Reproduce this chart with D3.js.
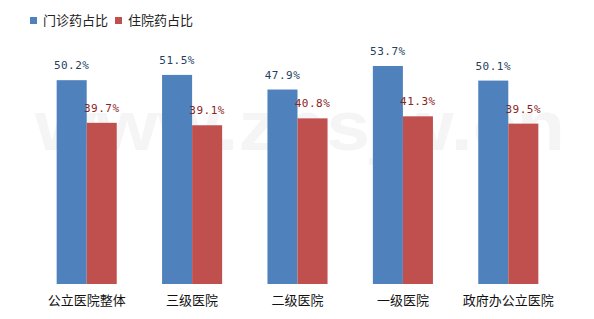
<!DOCTYPE html>
<html>
<head>
<meta charset="utf-8">
<script src="https://cdn.jsdelivr.net/npm/d3@7"></script>
<style>
  body { margin: 0; background: #fff; }
  svg { display: block; }
</style>
</head>
<body>
<script>
// Data
const categories = ["公立医院整体", "三级医院", "二级医院", "一级医院", "政府办公立医院"];
const seriesNames = ["门诊药占比", "住院药占比"];
const outpatient = [50.2, 51.5, 47.9, 53.7, 50.1];
const inpatient = [39.7, 39.1, 40.8, 41.3, 39.5];

const colors = ["#4F81BD", "#C0504D"];
const labelColors = ["#243F60", "#8B2323"];

const width = 594, height = 319;
const margin = {top: 40, right: 33, bottom: 35, left: 34};

const svg = d3.select("body")
    .append("svg")
    .attr("width", width)
    .attr("height", height);

// faint watermark behind the bars
svg.append("text")
    .attr("x", 35)
    .attr("y", 150)
    .attr("font-family", "Liberation Sans, Arial, sans-serif")
    .attr("font-weight", "bold")
    .attr("font-size", 70)
    .attr("textLength", 530)
    .attr("lengthAdjust", "spacingAndGlyphs")
    .attr("fill", "#f5f5f5")
    .text("www.zbsjw.cn");

const rows = categories.map((c, i) => ({cat: c, values: [outpatient[i], inpatient[i]]}));

const x0 = d3.scaleBand()
    .domain(categories)
    .range([margin.left, width - margin.right])
    .paddingInner(0.43)
    .paddingOuter(0.215);

const x1 = d3.scaleBand()
    .domain([0, 1])
    .range([0, x0.bandwidth()]);

const y = d3.scaleLinear()
    .domain([0, 60])
    .range([284, 40.4]);

const groups = svg.append("g")
    .selectAll("g")
    .data(rows)
    .join("g")
    .attr("transform", d => `translate(${x0(d.cat)},0)`);

groups.selectAll("rect")
    .data(d => d.values)
    .join("rect")
    .attr("x", (d, i) => x1(i))
    .attr("y", d => y(d))
    .attr("width", x1.bandwidth())
    .attr("height", d => y(0) - y(d))
    .attr("fill", (d, i) => colors[i]);

groups.selectAll("text")
    .data(d => d.values)
    .join("text")
    .attr("x", (d, i) => x1(i) + x1.bandwidth() / 2)
    .attr("y", d => y(d) - 11)
    .attr("text-anchor", "middle")
    .attr("font-family", "DejaVu Sans Mono, monospace")
    .attr("font-size", 11)
    .attr("letter-spacing", 0.5)
    .attr("fill", (d, i) => labelColors[i])
    .text(d => d.toFixed(1) + "%");

// category labels
svg.append("g")
    .selectAll("text")
    .data(categories)
    .join("text")
    .attr("x", d => x0(d) + x0.bandwidth() / 2)
    .attr("y", 305)
    .attr("text-anchor", "middle")
    .attr("font-family", "Noto Sans CJK SC, sans-serif")
    .attr("font-size", 13)
    .attr("fill", "#111")
    .text(d => d);

// legend
const legendX = [30, 115];
const legend = svg.append("g")
    .selectAll("g")
    .data(seriesNames)
    .join("g")
    .attr("transform", (d, i) => `translate(${legendX[i]},17)`);

legend.append("rect")
    .attr("width", 7)
    .attr("height", 7)
    .attr("fill", (d, i) => colors[i]);

legend.append("text")
    .attr("x", 13)
    .attr("y", 8)
    .attr("font-family", "Noto Sans CJK SC, sans-serif")
    .attr("font-size", 13)
    .attr("fill", "#222")
    .text(d => d);
</script>
</body>
</html>
